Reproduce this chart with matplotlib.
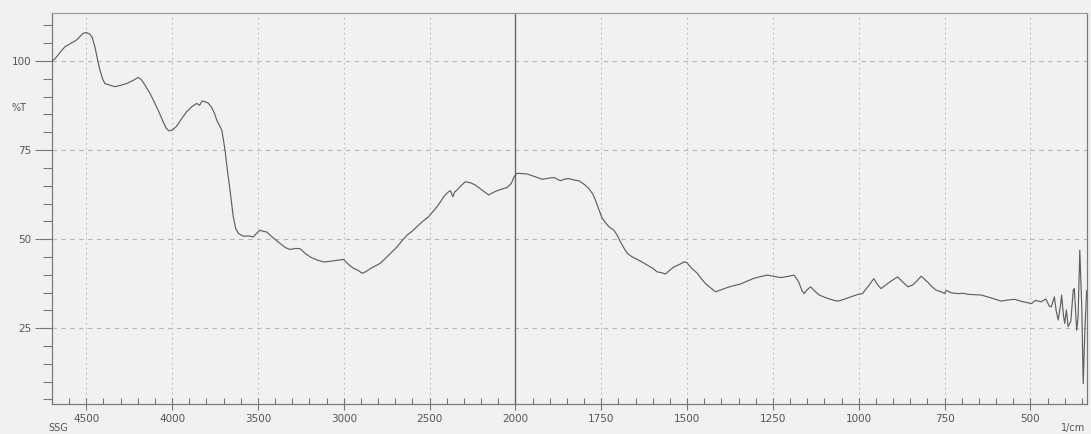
import numpy as np
import matplotlib
matplotlib.use("Agg")
import matplotlib.pyplot as plt
from matplotlib.ticker import FixedLocator

# FTIR spectrum: wavenumber (1/cm) and transmittance (%T)
wavenumber = [
    4700, 4680, 4650, 4625, 4590, 4557, 4535, 4519, 4500, 4480, 4465, 4450, 4435, 4421,
    4405, 4392, 4360, 4334, 4300, 4265, 4230, 4198, 4180, 4159, 4130, 4100, 4075, 4052,
    4035, 4019, 4000, 3974, 3945, 3915, 3885, 3857, 3840, 3825, 3809, 3790, 3770, 3755,
    3740, 3725, 3711, 3700, 3692, 3680, 3663, 3650, 3644, 3630, 3614, 3585, 3555, 3527,
    3505, 3488, 3470, 3449, 3410, 3371, 3340, 3313, 3280, 3254, 3225, 3196, 3160, 3118,
    3090, 3060, 3030, 3002, 2970, 2943, 2915, 2894, 2870, 2846, 2815, 2788, 2768, 2730,
    2690, 2660, 2632, 2600, 2574, 2540, 2506, 2480, 2457, 2435, 2418, 2395, 2379, 2364,
    2355, 2340, 2315, 2292, 2260, 2234, 2195, 2156, 2130, 2107, 2075, 2049, 2030, 2020,
    2008, 1995, 1980, 1966, 1945, 1922, 1905, 1888, 1869, 1855, 1844, 1830, 1815, 1800,
    1786, 1775, 1767, 1757, 1747, 1735, 1728, 1713, 1703, 1694, 1684, 1674, 1660, 1645,
    1630, 1616, 1600, 1587, 1575, 1563, 1550, 1538, 1520, 1509, 1500, 1495, 1483, 1470,
    1458, 1446, 1430, 1417, 1400, 1383, 1365, 1344, 1325, 1305, 1285, 1266, 1245, 1227,
    1208, 1188, 1175, 1165, 1159, 1150, 1140, 1128, 1115, 1095, 1072, 1060, 1043, 1023,
    1005, 989, 972, 956, 945, 935, 912, 887, 870, 857, 843, 830, 818, 800,
    785, 775, 760, 750, 745, 730, 711, 695, 682, 660, 643, 615, 585, 565,
    546, 525, 510, 497, 485, 468, 455, 445, 439, 430, 425, 419, 412, 409,
    404, 400, 395, 390, 382, 375, 372, 365, 361, 356, 350, 346, 341, 336,
]
transmittance = [
    100.0, 100.8, 102.6, 104.0, 105.0, 105.9, 107.0, 107.8, 108.0, 107.6, 106.5, 104.0, 100.5, 97.5,
    95.0, 93.7, 93.2, 92.8, 93.2, 93.7, 94.5, 95.4, 94.8, 93.3, 91.0, 88.1, 85.5, 82.9,
    81.2, 80.4, 80.6, 81.7, 83.8, 85.8, 87.2, 88.1, 87.6, 88.8, 88.6, 88.2, 87.0, 85.5,
    83.4, 82.0, 80.6, 77.5, 75.0, 70.0, 63.8, 58.5, 56.3, 53.0, 51.6, 50.8, 50.9, 50.6,
    51.8, 52.5, 52.2, 52.0, 50.3, 48.8, 47.6, 47.1, 47.4, 47.3, 46.0, 45.0, 44.2, 43.6,
    43.7, 43.9, 44.1, 44.3, 42.8, 41.8, 41.2, 40.4, 40.9, 41.7, 42.5, 43.2, 44.1, 45.9,
    47.8, 49.6, 51.1, 52.3, 53.5, 55.0, 56.3, 57.8, 59.1, 60.6, 61.9, 63.1, 63.6, 61.9,
    63.2, 63.8, 65.1, 66.1, 65.8, 65.2, 63.8, 62.4, 63.1, 63.6, 64.1, 64.5, 65.3, 66.1,
    67.5, 68.5, 68.4, 68.3, 67.6, 66.8, 67.1, 67.3, 66.4, 66.9, 67.0, 66.6, 66.4, 65.4,
    64.2, 62.7, 61.0, 58.3, 55.8, 54.3, 53.5, 52.5, 51.0, 49.2, 47.5, 46.0, 45.0, 44.3,
    43.5, 42.7, 41.8, 40.8, 40.6, 40.2, 41.3, 42.2, 43.0, 43.6, 43.4, 42.7, 41.5, 40.4,
    38.8, 37.5, 36.2, 35.2, 35.8, 36.4, 36.9, 37.4, 38.2, 39.0, 39.5, 39.9, 39.5, 39.2,
    39.5, 39.9, 38.0, 35.5, 34.7, 35.8, 36.6, 35.4, 34.3, 33.5, 32.8, 32.6, 33.1, 33.8,
    34.4, 34.7, 36.8, 38.9, 37.2, 36.1, 37.8, 39.4, 37.8, 36.6, 37.1, 38.3, 39.6, 38.0,
    36.5, 35.7, 35.2, 34.7, 35.6, 34.9, 34.7, 34.8, 34.5, 34.4, 34.3, 33.5, 32.6, 32.9,
    33.1, 32.5, 32.2, 31.9, 32.8, 32.4, 33.2, 31.2, 31.0, 33.8, 30.0, 27.3, 31.5, 34.3,
    29.0, 26.3, 30.1, 25.4, 27.0, 35.7, 36.1, 24.4, 28.0, 46.9, 30.0, 9.4, 25.0, 35.5,
]

x_major = [4500, 4000, 3500, 3000, 2500, 2000, 1750, 1500, 1250, 1000, 750, 500]
y_major = [25, 50, 75, 100]

BREAK = 2000.0


def forward(x):
    x = np.asarray(x, dtype=float)
    return np.where(x >= BREAK, BREAK + (x - BREAK) / 2.0, x)


def inverse(p):
    p = np.asarray(p, dtype=float)
    return np.where(p >= BREAK, BREAK + (p - BREAK) * 2.0, p)


bg = "#f1f1f1"
fig = plt.figure(figsize=(10.91, 4.34), dpi=100, facecolor=bg)
ax = fig.add_axes([52 / 1091, 30 / 434, 1035 / 1091, 391 / 434], facecolor=bg)

ax.set_xscale("function", functions=(forward, inverse))
ax.set_xlim(4700, 335)
ax.set_ylim(3.7, 113.5)

# grid
for y in y_major:
    ax.axhline(y, color="#b8b8b8", lw=0.8, ls=(0, (4, 4)), zorder=1)
for x in x_major:
    if x == 2000:
        continue
    ax.axvline(x, color="#bcbcbc", lw=0.8, ls=(0, (1.5, 3)), zorder=1)
ax.axvline(2000, color="#6a6a6a", lw=1.0, zorder=2)

ax.plot(wavenumber, transmittance, color="#606060", lw=0.85, zorder=3)

# ticks
ax.xaxis.set_major_locator(FixedLocator(x_major))
x_minor = list(range(4700, 2000, -100)) + list(range(2000, 330, -50))
ax.xaxis.set_minor_locator(FixedLocator(x_minor))
ax.set_xticklabels([str(v) for v in x_major])
ax.yaxis.set_major_locator(FixedLocator(y_major))
ax.yaxis.set_minor_locator(FixedLocator(list(range(5, 115, 5))))
ax.set_yticklabels([str(v) for v in y_major])

ax.tick_params(axis="x", which="major", direction="inout", length=8, width=0.8,
               color="#777777", labelsize=7.5, labelcolor="#555555", pad=3)
ax.tick_params(axis="x", which="minor", direction="in", length=4, width=0.8, color="#777777")
ax.tick_params(axis="y", which="major", direction="out", length=12, width=0.8,
               color="#777777", labelsize=7.5, labelcolor="#555555", pad=3)
ax.tick_params(axis="y", which="minor", direction="out", length=6.5, width=0.8, color="#777777")

for s in ax.spines.values():
    s.set_color("#7a7a7a")
    s.set_linewidth(0.9)
ax.spines["top"].set_color("#9a9a9a")

fig.text(12 / 1091, 1 - 108 / 434, "%T", fontsize=7, color="#555555", va="center", ha="left")
fig.text(1085 / 1091, 1 - 428 / 434, "1/cm", fontsize=7, color="#555555", va="center", ha="right")
fig.text(48 / 1091, 1 - 428 / 434, "SSG", fontsize=7, color="#555555", va="center", ha="left")

fig.savefig("out.png", dpi=100, facecolor=bg)
